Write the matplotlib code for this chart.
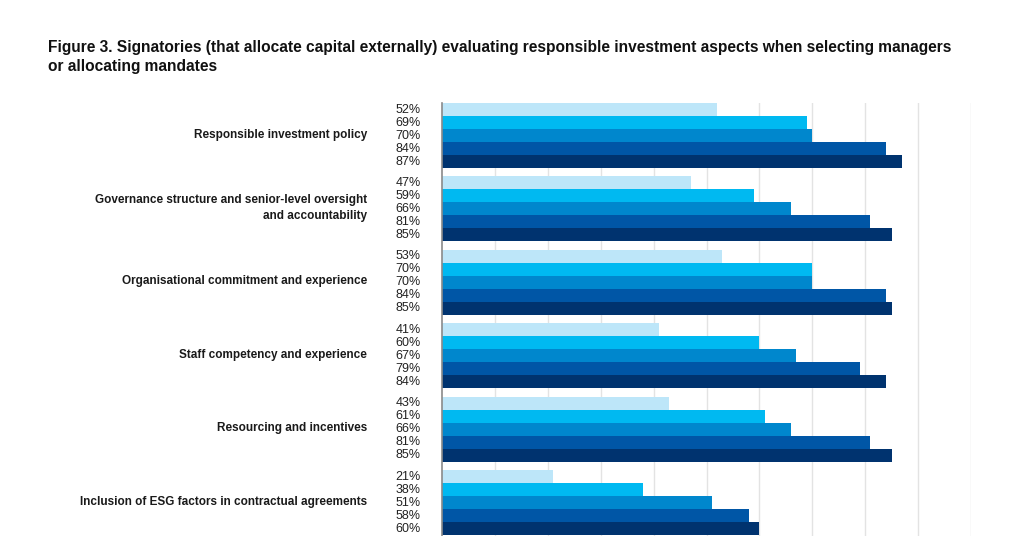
import numpy as np
import matplotlib.pyplot as plt

plt.rcParams['font.family'] = ['Liberation Sans', 'DejaVu Sans']

categories = [
    "Responsible investment policy",
    "Governance structure and senior-level oversight\nand accountability",
    "Organisational commitment and experience",
    "Staff competency and experience",
    "Resourcing and incentives",
    "Inclusion of ESG factors in contractual agreements",
]

# five series per category, lightest shade first (top bar) to darkest (bottom bar)
series_1 = [52, 47, 53, 41, 43, 21]
series_2 = [69, 59, 70, 60, 61, 38]
series_3 = [70, 66, 70, 67, 66, 51]
series_4 = [84, 81, 84, 79, 81, 58]
series_5 = [87, 85, 85, 84, 85, 60]

colors = ['#bde6f9', '#00b9f1', '#0087cd', '#0056a6', '#00336f']

series = [series_1, series_2, series_3, series_4, series_5]

fig = plt.figure(figsize=(10.24, 5.36), dpi=100)
ax = fig.add_axes([442 / 1024, 0, (971 - 442) / 1024, 1 - 103 / 536])

group_gap = 73.4 / 13
n_groups = len(categories)
base = np.arange(n_groups) * group_gap

for j, (vals, c) in enumerate(zip(series, colors)):
    y = base + j
    ax.barh(y, vals, height=1.0, color=c, edgecolor='none', zorder=3)
    for yy, v in zip(y, vals):
        ax.annotate(f"{v}%", xy=(0, yy), xytext=(-21, 0), textcoords='offset pixels',
                    ha='right', va='center', fontsize=9, color='#222222',
                    annotation_clip=False)

for g, cat in enumerate(categories):
    ax.annotate(cat, xy=(0, base[g] + 2), xytext=(-75, 1), textcoords='offset pixels',
                ha='right', va='center', fontsize=8.5, fontweight='bold',
                color='#1a1a1a', multialignment='right', linespacing=1.4,
                annotation_clip=False)

ax.set_xlim(0, 100)
ax.set_ylim(-0.5 + 433 / 13, -0.5)
ax.set_xticks(np.arange(10, 101, 10))
ax.xaxis.grid(True, color='#e3e3e3', linewidth=1, zorder=0)
ax.tick_params(left=False, bottom=False, labelleft=False, labelbottom=False)
for side in ['top', 'right', 'bottom']:
    ax.spines[side].set_visible(False)
ax.spines['left'].set_color('#8a8a8a')
ax.spines['left'].set_linewidth(1.2)
ax.spines['left'].set_zorder(4)

fig.text(48 / 1024, 1 - 40 / 536,
         "Figure 3. Signatories (that allocate capital externally) evaluating responsible investment aspects when selecting managers\n"
         "or allocating mandates",
         ha='left', va='top', fontsize=11.2, fontweight='bold', color='#111111', linespacing=1.35)

fig.savefig('out.png', dpi=100)
